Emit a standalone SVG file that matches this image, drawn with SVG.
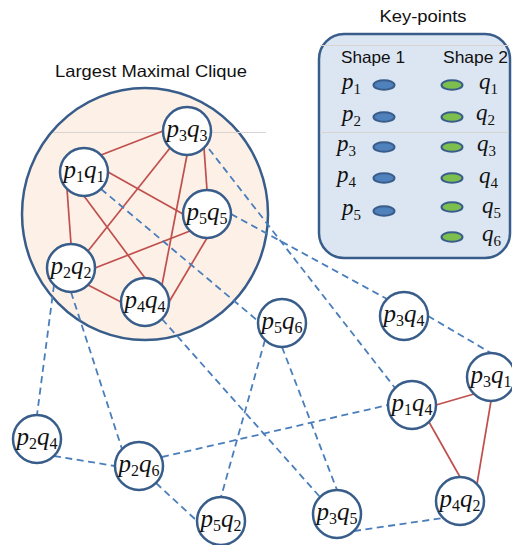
<svg xmlns="http://www.w3.org/2000/svg" width="512" height="545" viewBox="0 0 512 545">
<style>
.title{font-family:"Liberation Sans",Arial,sans-serif;font-size:16.5px;fill:#111}
.node circle{fill:#fff;stroke:#385D8A;stroke-width:2.5}
.lbl{font-family:"Liberation Serif","Times New Roman",serif;font-size:25px;fill:#111;text-anchor:middle}
.klbl{font-family:"Liberation Serif","Times New Roman",serif;font-size:23px;fill:#111}
.v{font-style:italic}
.s{font-size:16px;font-style:normal}
.ks{font-size:15px;font-style:normal}
.red line{stroke:#C0504D;stroke-width:1.7}
.dash line{stroke:#4A7EBB;stroke-width:1.8;stroke-dasharray:7 4.5}
.kb{fill:#4F81BD;stroke:#385D8A;stroke-width:2}
.kg{fill:#7DBF4E;stroke:#385D8A;stroke-width:2}
.faint{stroke:#D9D4CF;stroke-width:1}
</style>

<!-- Largest maximal clique region -->
<g id="clique-region">
<ellipse cx="145" cy="214" rx="123" ry="126" fill="#FDF0E7" stroke="#385D8A" stroke-width="2.5"/>
<line class="faint" x1="53" y1="132.5" x2="266" y2="132.5"/>
<text class="title" x="151" y="77" text-anchor="middle" textLength="192" lengthAdjust="spacingAndGlyphs">Largest Maximal Clique</text>
</g>

<!-- Key-points legend -->
<g id="key-points">
<text class="title" x="423" y="22" text-anchor="middle" textLength="87" lengthAdjust="spacingAndGlyphs">Key-points</text>
<rect x="319" y="34" width="191" height="224" rx="25" ry="25" fill="#DCE6F2" stroke="#385D8A" stroke-width="2.5"/>
<line class="faint" x1="320" y1="45.5" x2="509" y2="45.5"/>
<line class="faint" x1="320" y1="132.5" x2="509" y2="132.5"/>
<text class="title" x="341" y="63" textLength="64" lengthAdjust="spacingAndGlyphs">Shape 1</text>
<text class="title" x="443" y="63" textLength="65" lengthAdjust="spacingAndGlyphs">Shape 2</text>
<ellipse class="kb" cx="384" cy="85" rx="10.5" ry="4.8"/>
<ellipse class="kb" cx="384" cy="117" rx="10.5" ry="4.8"/>
<ellipse class="kb" cx="384" cy="147" rx="10.5" ry="4.8"/>
<ellipse class="kb" cx="384" cy="178" rx="10.5" ry="4.8"/>
<ellipse class="kb" cx="384" cy="211" rx="10.5" ry="4.8"/>
<ellipse class="kg" cx="452" cy="85" rx="10.5" ry="4.8"/>
<ellipse class="kg" cx="452" cy="117" rx="10.5" ry="4.8"/>
<ellipse class="kg" cx="452" cy="147" rx="10.5" ry="4.8"/>
<ellipse class="kg" cx="452" cy="178" rx="10.5" ry="4.8"/>
<ellipse class="kg" cx="452" cy="207" rx="10.5" ry="4.8"/>
<ellipse class="kg" cx="452" cy="237" rx="10.5" ry="4.8"/>
<text class="klbl" x="342" y="89"><tspan class="v">p</tspan><tspan class="ks" dy="5">1</tspan></text>
<text class="klbl" x="342" y="121"><tspan class="v">p</tspan><tspan class="ks" dy="5">2</tspan></text>
<text class="klbl" x="337" y="151"><tspan class="v">p</tspan><tspan class="ks" dy="5">3</tspan></text>
<text class="klbl" x="337" y="182"><tspan class="v">p</tspan><tspan class="ks" dy="5">4</tspan></text>
<text class="klbl" x="342" y="215"><tspan class="v">p</tspan><tspan class="ks" dy="5">5</tspan></text>
<text class="klbl" x="479" y="89"><tspan class="v">q</tspan><tspan class="ks" dy="5">1</tspan></text>
<text class="klbl" x="476" y="120"><tspan class="v">q</tspan><tspan class="ks" dy="5">2</tspan></text>
<text class="klbl" x="477" y="151"><tspan class="v">q</tspan><tspan class="ks" dy="5">3</tspan></text>
<text class="klbl" x="479" y="183"><tspan class="v">q</tspan><tspan class="ks" dy="5">4</tspan></text>
<text class="klbl" x="482" y="213"><tspan class="v">q</tspan><tspan class="ks" dy="5">5</tspan></text>
<text class="klbl" x="482" y="241"><tspan class="v">q</tspan><tspan class="ks" dy="5">6</tspan></text>
</g>

<!-- Connectors -->
<g id="connectors">
<g class="red">
<line x1="163" y1="131" x2="101" y2="155"/>
<line x1="170" y1="148" x2="88" y2="251"/>
<line x1="187" y1="155" x2="162" y2="285"/>
<line x1="204" y1="148" x2="207" y2="190"/>
<line x1="108" y1="172" x2="183" y2="214"/>
<line x1="67" y1="189" x2="71" y2="244"/>
<line x1="84" y1="196" x2="145" y2="278"/>
<line x1="190" y1="231" x2="95" y2="268"/>
<line x1="207" y1="238" x2="169" y2="302"/>
<line x1="88" y1="285" x2="121" y2="302"/>
<line x1="436" y1="405" x2="474" y2="394"/>
<line x1="429" y1="422" x2="460" y2="477"/>
<line x1="491" y1="401" x2="477" y2="484"/>
</g>
<g class="dash">
<line x1="209" y1="149" x2="395" y2="388"/>
<line x1="231" y1="214" x2="387" y2="299"/>
<line x1="428" y1="316" x2="491" y2="353"/>
<line x1="101" y1="189" x2="258" y2="321"/>
<line x1="162" y1="319" x2="320" y2="497"/>
<line x1="54" y1="285" x2="37" y2="415"/>
<line x1="71" y1="292" x2="122" y2="449"/>
<line x1="54" y1="456" x2="115" y2="466"/>
<line x1="156" y1="483" x2="197" y2="521"/>
<line x1="162" y1="457" x2="388" y2="405"/>
<line x1="265" y1="340" x2="221" y2="497"/>
<line x1="282" y1="347" x2="337" y2="490"/>
<line x1="354" y1="531" x2="443" y2="518"/>
</g>
</g>

<!-- Nodes -->
<g id="n-p3q3" class="node"><circle cx="187" cy="131" r="24"/><text class="lbl" x="187" y="137"><tspan class="v">p</tspan><tspan class="s" dy="4">3</tspan><tspan class="v" dy="-4">q</tspan><tspan class="s" dy="4">3</tspan></text></g>
<g id="n-p1q1" class="node"><circle cx="84" cy="172" r="24"/><text class="lbl" x="84" y="178"><tspan class="v">p</tspan><tspan class="s" dy="4">1</tspan><tspan class="v" dy="-4">q</tspan><tspan class="s" dy="4">1</tspan></text></g>
<g id="n-p5q5" class="node"><circle cx="207" cy="214" r="24"/><text class="lbl" x="207" y="220"><tspan class="v">p</tspan><tspan class="s" dy="4">5</tspan><tspan class="v" dy="-4">q</tspan><tspan class="s" dy="4">5</tspan></text></g>
<g id="n-p2q2" class="node"><circle cx="71" cy="268" r="24"/><text class="lbl" x="71" y="274"><tspan class="v">p</tspan><tspan class="s" dy="4">2</tspan><tspan class="v" dy="-4">q</tspan><tspan class="s" dy="4">2</tspan></text></g>
<g id="n-p4q4" class="node"><circle cx="145" cy="302" r="24"/><text class="lbl" x="145" y="308"><tspan class="v">p</tspan><tspan class="s" dy="4">4</tspan><tspan class="v" dy="-4">q</tspan><tspan class="s" dy="4">4</tspan></text></g>
<g id="n-p5q6" class="node"><circle cx="282" cy="323" r="24"/><text class="lbl" x="282" y="329"><tspan class="v">p</tspan><tspan class="s" dy="4">5</tspan><tspan class="v" dy="-4">q</tspan><tspan class="s" dy="4">6</tspan></text></g>
<g id="n-p3q4" class="node"><circle cx="404" cy="316" r="24"/><text class="lbl" x="404" y="322"><tspan class="v">p</tspan><tspan class="s" dy="4">3</tspan><tspan class="v" dy="-4">q</tspan><tspan class="s" dy="4">4</tspan></text></g>
<g id="n-p3q1" class="node"><circle cx="491" cy="377" r="24"/><text class="lbl" x="491" y="383"><tspan class="v">p</tspan><tspan class="s" dy="4">3</tspan><tspan class="v" dy="-4">q</tspan><tspan class="s" dy="4">1</tspan></text></g>
<g id="n-p1q4" class="node"><circle cx="412" cy="405" r="24"/><text class="lbl" x="412" y="411"><tspan class="v">p</tspan><tspan class="s" dy="4">1</tspan><tspan class="v" dy="-4">q</tspan><tspan class="s" dy="4">4</tspan></text></g>
<g id="n-p4q2" class="node"><circle cx="460" cy="501" r="24"/><text class="lbl" x="460" y="507"><tspan class="v">p</tspan><tspan class="s" dy="4">4</tspan><tspan class="v" dy="-4">q</tspan><tspan class="s" dy="4">2</tspan></text></g>
<g id="n-p3q5" class="node"><circle cx="337" cy="514" r="24"/><text class="lbl" x="337" y="520"><tspan class="v">p</tspan><tspan class="s" dy="4">3</tspan><tspan class="v" dy="-4">q</tspan><tspan class="s" dy="4">5</tspan></text></g>
<g id="n-p2q4" class="node"><circle cx="37" cy="439" r="24"/><text class="lbl" x="37" y="445"><tspan class="v">p</tspan><tspan class="s" dy="4">2</tspan><tspan class="v" dy="-4">q</tspan><tspan class="s" dy="4">4</tspan></text></g>
<g id="n-p2q6" class="node"><circle cx="139" cy="466" r="24"/><text class="lbl" x="139" y="472"><tspan class="v">p</tspan><tspan class="s" dy="4">2</tspan><tspan class="v" dy="-4">q</tspan><tspan class="s" dy="4">6</tspan></text></g>
<g id="n-p5q2" class="node"><circle cx="221" cy="521" r="24"/><text class="lbl" x="221" y="527"><tspan class="v">p</tspan><tspan class="s" dy="4">5</tspan><tspan class="v" dy="-4">q</tspan><tspan class="s" dy="4">2</tspan></text></g>
</svg>
